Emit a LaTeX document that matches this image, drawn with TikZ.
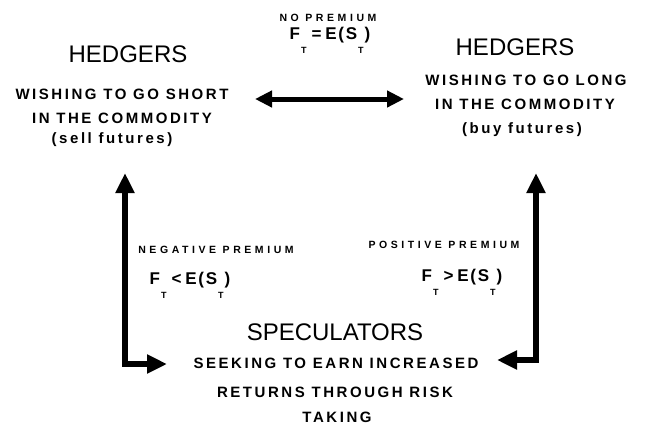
\documentclass[tikz,border=0pt]{standalone}
\usepackage{fontspec}
\usetikzlibrary{arrows.meta}
\setmainfont{Liberation Sans}
\newfontfamily\bodyfont[LetterSpace=17]{Liberation Sans}
\newfontfamily\labfont[LetterSpace=34]{Liberation Sans}
\newfontfamily\eqfont[LetterSpace=10]{Liberation Sans}
\newcommand{\lowT}{\hspace{1pt}\raisebox{-14pt}{\labfont\bfseries\fontsize{9}{9}\selectfont T}\hspace{1pt}}
\newcommand{\rel}[1]{\hspace{4pt}#1\hspace{4pt}}

\tikzset{
  title/.style={font=\fontsize{24}{24}\selectfont, anchor=base, inner sep=0pt},
  body/.style={font=\bodyfont\bfseries\fontsize{15}{15}\selectfont, anchor=base, inner sep=0pt},
  premium/.style={font=\labfont\bfseries\fontsize{10.5}{10.5}\selectfont, anchor=base, inner sep=0pt},
  eqn/.style={font=\eqfont\bfseries\fontsize{17}{17}\selectfont, anchor=base, inner sep=0pt},
  bigarrow/.style={line width=6pt, {Triangle[length=20pt,width=18pt]}-{Triangle[length=20pt,width=18pt]}},
  widearrow/.style={line width=5pt, {Triangle[length=17pt,width=16pt]}-{Triangle[length=17pt,width=16pt]}}
}

\begin{document}
\begin{tikzpicture}[x=1pt,y=1pt]
    \useasboundingbox (0,0) rectangle (647,-426);

    % Hedgers going short
    \node[title] (lhedge) at (128,-62) {HEDGERS};
    \node[body] (lshort) at (122,-99) {WISHING TO GO SHORT};
    \node[body] (lcomm) at (122,-123) {IN THE COMMODITY};
    \node[body] (lsell) at (112,-143) {(sell futures)};

    % Hedgers going long
    \node[title] (rhedge) at (515,-55) {HEDGERS};
    \node[body] (rlong) at (526,-85) {WISHING TO GO LONG};
    \node[body] (rcomm) at (525,-109) {IN THE COMMODITY};
    \node[body] (rbuy) at (522,-133) {(buy futures)};

    % Premium labels
    \node[premium] (nolab) at (328,-21) {NO PREMIUM};
    \node[eqn] (noeq) at (330,-39) {F\lowT\rel{=}E(S\lowT)};
    \node[premium] (neglab) at (216,-253) {NEGATIVE PREMIUM};
    \node[eqn] (negeq) at (190,-284) {F\lowT\rel{<}E(S\lowT)};
    \node[premium] (poslab) at (444,-248) {POSITIVE PREMIUM};
    \node[eqn] (poseq) at (462,-281) {F\lowT\rel{>}E(S\lowT)};

    % Speculators
    \node[title] (spec) at (335,-340) {SPECULATORS};
    \node[body] (seek) at (336,-368) {SEEKING TO EARN INCREASED};
    \node[body] (ret) at (335,-397) {RETURNS THROUGH RISK};
    \node[body] (taking) at (337,-422) {TAKING};

    % Arrows
    \coordinate (nl) at (255,-99);
    \coordinate (nr) at (404,-99);
    \draw[widearrow] (nl) -- (nr);

    \coordinate (ltop) at (125,-173);
    \coordinate (lend) at (167,-364);
    \draw[bigarrow] (ltop) |- (lend);

    \coordinate (rtop) at (536,-173);
    \coordinate (rend) at (497,-360);
    \draw[bigarrow] (rtop) |- (rend);
\end{tikzpicture}
\end{document}
